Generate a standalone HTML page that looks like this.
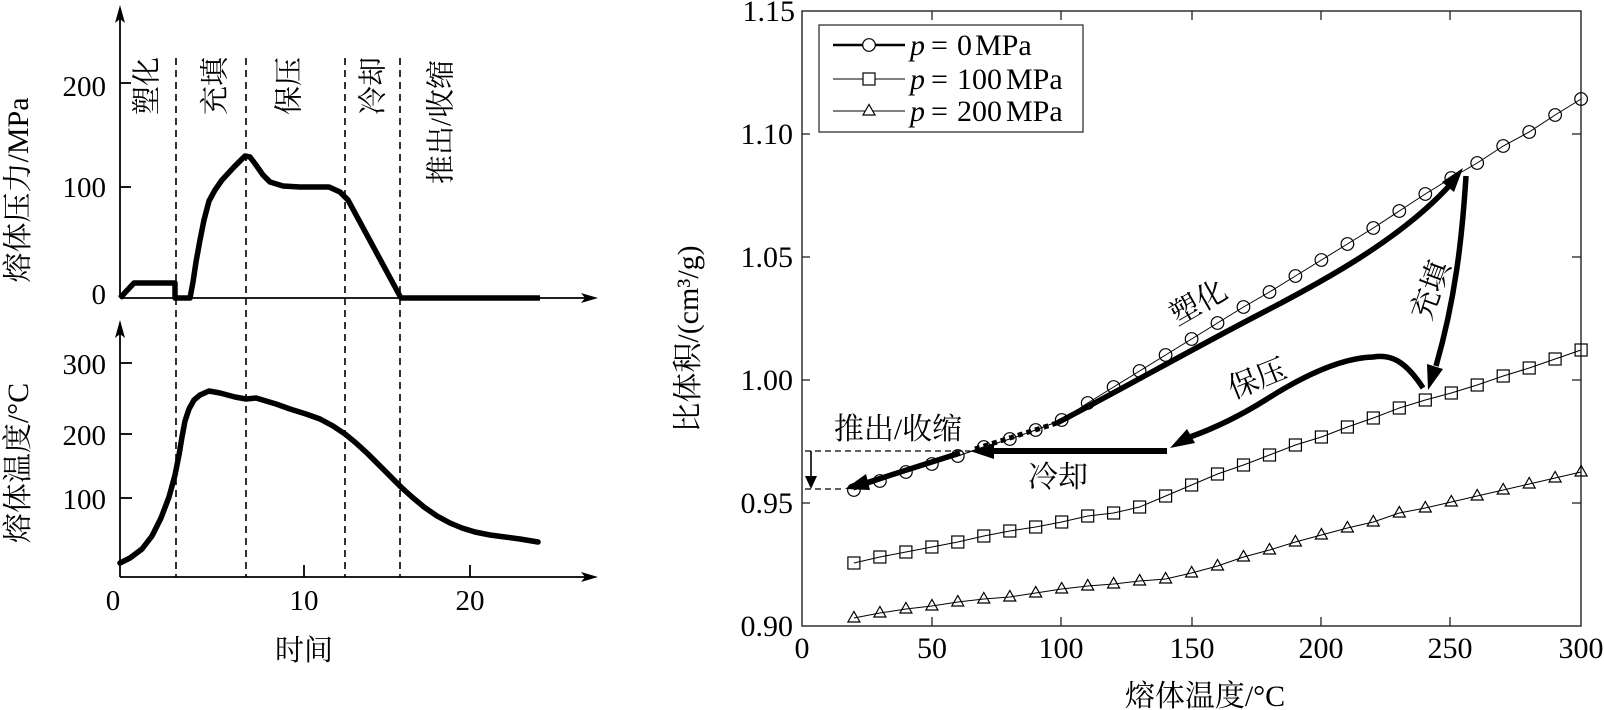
<!DOCTYPE html>
<html>
<head>
<meta charset="utf-8">
<style>
html,body{margin:0;padding:0;background:#fff;}
svg{display:block;}
text{font-family:"Liberation Serif","Noto Serif CJK SC","Noto Serif CJK JP","Noto Serif CJK",serif;fill:#000;}
</style>
</head>
<body>
<svg width="1604" height="710" viewBox="0 0 1604 710" xmlns="http://www.w3.org/2000/svg">
<defs>
  <marker id="mc" markerUnits="userSpaceOnUse" markerWidth="16" markerHeight="16" refX="8" refY="8" overflow="visible">
    <circle cx="8" cy="8" r="6.3" fill="none" stroke="#000" stroke-width="1.2"/>
  </marker>
  <marker id="ms" markerUnits="userSpaceOnUse" markerWidth="16" markerHeight="16" refX="8" refY="8" overflow="visible">
    <rect x="2" y="2" width="12" height="12" fill="none" stroke="#000" stroke-width="1.2"/>
  </marker>
  <marker id="mt" markerUnits="userSpaceOnUse" markerWidth="16" markerHeight="16" refX="8" refY="8" overflow="visible">
    <polygon points="8,1.5 2,12 14,12" fill="none" stroke="#000" stroke-width="1.2"/>
  </marker>
</defs>

<!-- ================= LEFT CHART ================= -->
<g stroke="#000" stroke-width="1.6" stroke-dasharray="7 5" fill="none">
  <line x1="176" y1="58" x2="176" y2="577"/>
  <line x1="246" y1="58" x2="246" y2="577"/>
  <line x1="345" y1="58" x2="345" y2="577"/>
  <line x1="400" y1="58" x2="400" y2="577"/>
</g>

<g stroke="#000" stroke-width="1.8" fill="none">
  <line x1="120" y1="298" x2="590" y2="298"/>
  <line x1="120" y1="298" x2="120" y2="16"/>
  <line x1="120" y1="83" x2="131" y2="83"/>
  <line x1="120" y1="187" x2="131" y2="187"/>
  <line x1="120" y1="577" x2="590" y2="577"/>
  <line x1="120" y1="577" x2="120" y2="332"/>
  <line x1="120" y1="363" x2="132" y2="363"/>
  <line x1="120" y1="434" x2="132" y2="434"/>
  <line x1="120" y1="498" x2="132" y2="498"/>
  <line x1="304" y1="577" x2="304" y2="565"/>
  <line x1="470" y1="577" x2="470" y2="565"/>
</g>
<g fill="#000">
  <polygon points="120,5 115,23 120,19 125,23"/>
  <polygon points="598,298 581,293 585,298 581,303"/>
  <polygon points="120,320 115,338 120,334 125,338"/>
  <polygon points="598,577 581,572 585,577 581,582"/>
</g>

<polyline fill="none" stroke="#000" stroke-width="5.5" stroke-linejoin="round" stroke-linecap="butt"
  points="120,298 134,283 175,283 175,298 190,298 193,282 196,262 200,240 204,220 209,201 215,190 222,180 234,167 245,156 250,157 256,165 263,175 270,182 283,186 300,187 329,187 340,192 348,200 401,298 540,298"/>

<polyline fill="none" stroke="#000" stroke-width="5.5" stroke-linejoin="round" stroke-linecap="round"
  points="120,563 130,558 142,549 152,536 161,518 169,497 175,475 179,455 182,437 185,421 189,409 194,400 200,395 209,391 220,393 235,397 246,399 256,398 266,401 276,404 290,409 306,414 320,419 333,426 345,434 356,443 368,454 380,466 392,478 401,487 412,497 424,507 437,516 450,523 462,528 475,532 490,535 505,537 520,539 538,542"/>

<g font-size="29" text-anchor="end">
  <text x="106" y="96">200</text>
  <text x="106" y="197">100</text>
  <text x="106" y="304">0</text>
  <text x="106" y="374">300</text>
  <text x="106" y="445">200</text>
  <text x="106" y="509">100</text>
</g>
<g font-size="29" text-anchor="middle">
  <text x="113" y="610">0</text>
  <text x="304" y="610">10</text>
  <text x="470" y="610">20</text>
  <text x="304" y="660">时间</text>
</g>

<text font-size="30" text-anchor="middle" transform="translate(17,190) rotate(-90)" dy="0.36em">熔体压力/MPa</text>
<text font-size="30" text-anchor="middle" transform="translate(17,463) rotate(-90)" dy="0.36em">熔体温度/°C</text>

<g font-size="29" text-anchor="middle">
  <text transform="translate(146,86) rotate(-90)" dy="0.36em">塑化</text>
  <text transform="translate(214,86) rotate(-90)" dy="0.36em">充填</text>
  <text transform="translate(288,86) rotate(-90)" dy="0.36em">保压</text>
  <text transform="translate(372,86) rotate(-90)" dy="0.36em">冷却</text>
  <text transform="translate(440,122) rotate(-90)" dy="0.36em">推出/收缩</text>
</g>

<!-- ================= RIGHT CHART ================= -->
<rect x="802" y="11" width="779" height="615" fill="none" stroke="#222" stroke-width="1.4"/>
<g stroke="#222" stroke-width="1.3">
  <line x1="932" y1="11" x2="932" y2="20"/>
  <line x1="1061" y1="11" x2="1061" y2="20"/>
  <line x1="1192" y1="11" x2="1192" y2="20"/>
  <line x1="1321" y1="11" x2="1321" y2="20"/>
  <line x1="1450" y1="11" x2="1450" y2="20"/>
  <line x1="932" y1="626" x2="932" y2="617"/>
  <line x1="1061" y1="626" x2="1061" y2="617"/>
  <line x1="1192" y1="626" x2="1192" y2="617"/>
  <line x1="1321" y1="626" x2="1321" y2="617"/>
  <line x1="1450" y1="626" x2="1450" y2="617"/>
  <line x1="802" y1="134" x2="810" y2="134"/>
  <line x1="802" y1="257" x2="810" y2="257"/>
  <line x1="802" y1="380" x2="810" y2="380"/>
  <line x1="802" y1="503" x2="810" y2="503"/>
  <line x1="1581" y1="134" x2="1572" y2="134"/>
  <line x1="1581" y1="257" x2="1572" y2="257"/>
  <line x1="1581" y1="380" x2="1572" y2="380"/>
  <line x1="1581" y1="503" x2="1572" y2="503"/>
</g>

<g font-size="30" text-anchor="end">
  <text x="795" y="21">1.15</text>
  <text x="793" y="144">1.10</text>
  <text x="793" y="267">1.05</text>
  <text x="793" y="390">1.00</text>
  <text x="793" y="513">0.95</text>
  <text x="793" y="636">0.90</text>
</g>
<g font-size="30" text-anchor="middle">
  <text x="802" y="658">0</text>
  <text x="932" y="658">50</text>
  <text x="1061" y="658">100</text>
  <text x="1192" y="658">150</text>
  <text x="1321" y="658">200</text>
  <text x="1450" y="658">250</text>
  <text x="1581" y="658">300</text>
</g>

<text font-size="30" text-anchor="middle" transform="translate(687,339) rotate(-90)" dy="0.36em">比体积/(cm³/g)</text>
<text font-size="30" text-anchor="middle" x="1205" y="706">熔体温度/°C</text>

<polyline fill="none" stroke="#000" stroke-width="1" marker-start="url(#mc)" marker-mid="url(#mc)" marker-end="url(#mc)"
  points="853.9,490 879.9,481 905.9,472 931.9,464 957.8,456 983.8,447 1009.8,439 1035.7,430 1061.7,420 1087.7,403 1113.6,387 1139.6,371 1165.6,355 1191.6,339 1217.5,323 1243.5,307 1269.5,292 1295.4,276 1321.4,260 1347.4,244 1373.3,228 1399.3,211 1425.3,194 1451.3,178 1477.2,163 1503.2,146 1529.2,132 1555.1,115 1581.1,99"/>
<polyline fill="none" stroke="#000" stroke-width="1" marker-start="url(#ms)" marker-mid="url(#ms)" marker-end="url(#ms)"
  points="853.9,563 879.9,557 905.9,552 931.9,547 957.8,542 983.8,536 1009.8,531 1035.7,527 1061.7,522 1087.7,516 1113.6,513 1139.6,507 1165.6,496 1191.6,485 1217.5,474 1243.5,465 1269.5,455 1295.4,445 1321.4,437 1347.4,427 1373.3,418 1399.3,408 1425.3,400 1451.3,393 1477.2,385 1503.2,376 1529.2,368 1555.1,359 1581.1,350"/>
<polyline fill="none" stroke="#000" stroke-width="1" marker-start="url(#mt)" marker-mid="url(#mt)" marker-end="url(#mt)"
  points="853.9,618 879.9,613 905.9,609 931.9,606 957.8,602 983.8,599 1009.8,597 1035.7,593 1061.7,589 1087.7,586 1113.6,584 1139.6,581 1165.6,579 1191.6,573 1217.5,566 1243.5,557 1269.5,550 1295.4,542 1321.4,535 1347.4,528 1373.3,522 1399.3,513 1425.3,508 1451.3,502 1477.2,496 1503.2,490 1529.2,484 1555.1,478 1581.1,472"/>

<rect x="819" y="25" width="264" height="107" fill="#fff" stroke="#333" stroke-width="1.3"/>
<line x1="833" y1="45" x2="905" y2="45" stroke="#000" stroke-width="2.4"/>
<circle cx="869" cy="45" r="6.3" fill="#fff" stroke="#000" stroke-width="1.2"/>
<line x1="833" y1="79" x2="905" y2="79" stroke="#000" stroke-width="1"/>
<rect x="863" y="73" width="12" height="12" fill="#fff" stroke="#000" stroke-width="1.2"/>
<line x1="833" y1="111" x2="905" y2="111" stroke="#000" stroke-width="1"/>
<polygon points="869,104.5 863,115 875,115" fill="#fff" stroke="#000" stroke-width="1.2"/>
<g font-size="30">
  <text x="910" y="55"><tspan font-style="italic">p</tspan><tspan x="931">=</tspan><tspan x="957">0</tspan><tspan x="975">MPa</tspan></text>
  <text x="910" y="89"><tspan font-style="italic">p</tspan><tspan x="931">=</tspan><tspan x="957">100</tspan><tspan x="1006">MPa</tspan></text>
  <text x="910" y="121"><tspan font-style="italic">p</tspan><tspan x="931">=</tspan><tspan x="957">200</tspan><tspan x="1006">MPa</tspan></text>
</g>

<g fill="none" stroke="#000" stroke-linecap="butt" stroke-linejoin="round">
  <path d="M1057,423 C1120,390 1200,345 1260,314 S1400,240 1450,185" stroke-width="5.5"/>
  <path d="M975,449 L1057,423" stroke-width="5" stroke-dasharray="5 4"/>
  <path d="M1466,176 C1462,240 1455,300 1436,366" stroke-width="5.5"/>
  <path d="M1423,388 C1405,360 1390,354 1373,357 C1340,358 1300,378 1267,399 C1240,416 1215,428 1190,437" stroke-width="5.5"/>
  <path d="M1167,451 L992,451" stroke-width="6"/>
  <path d="M960,453 L866,483" stroke-width="5.5"/>
  <path d="M805,451 L970,451" stroke-width="1.3" stroke-dasharray="6 4"/>
  <path d="M805,489 L845,489" stroke-width="1.3" stroke-dasharray="6 4"/>
  <path d="M811,451 L811,478" stroke-width="1.6"/>
</g>
<g fill="#000">
  <polygon points="1463,168 1454,192 1442,182"/>
  <polygon points="1428,390 1443,369 1427,364"/>
  <polygon points="1170,448 1195,443 1187,429"/>
  <polygon points="970,451 994,443 994,459"/>
  <polygon points="845,489 870,490 866,474"/>
  <polygon points="811,489 805,476 817,476"/>
</g>

<g font-size="30" text-anchor="middle">
  <text transform="translate(1198,302) rotate(-30)" dy="0.36em">塑化</text>
  <text transform="translate(1257,378) rotate(-22)" dy="0.36em">保压</text>
  <text transform="translate(1430,290) rotate(-70)" dy="0.36em">充填</text>
  <text x="898" y="439">推出/收缩</text>
  <text x="1058" y="487">冷却</text>
</g>
</svg>
</body>
</html>
